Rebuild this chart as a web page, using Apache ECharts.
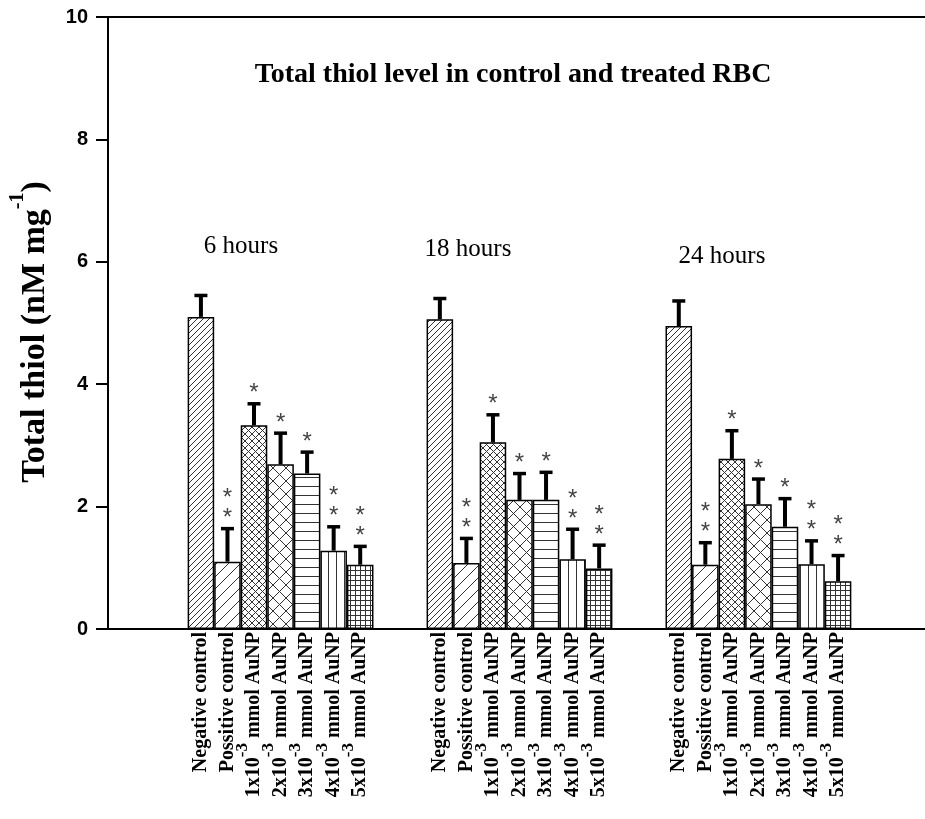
<!DOCTYPE html>
<html>
<head>
<meta charset="utf-8">
<script src="https://cdn.jsdelivr.net/npm/echarts@6/dist/echarts.min.js"></script>
<style>html,body{margin:0;padding:0;background:#fff;overflow:hidden}#c{width:931px;height:819px}</style>
</head>
<body>
<div id="c"></div>
<script>
// ---- data ----
const groupNames = ['6 hours', '18 hours', '24 hours'];
const treatmentLabels = ['Negative control', 'Possitive control', '1x10^-3 mmol AuNP', '2x10^-3 mmol AuNP', '3x10^-3 mmol AuNP', '4x10^-3 mmol AuNP', '5x10^-3 mmol AuNP'];
const mean6h  = [5.10, 1.10, 3.33, 2.69, 2.54, 1.28, 1.05];
const sd6h    = [0.35, 0.54, 0.35, 0.51, 0.35, 0.39, 0.30];
const mean18h = [5.06, 1.08, 3.05, 2.11, 2.11, 1.14, 0.99];
const sd18h   = [0.34, 0.40, 0.45, 0.43, 0.45, 0.49, 0.38];
const mean24h = [4.95, 1.05, 2.78, 2.04, 1.67, 1.06, 0.78];
const sd24h   = [0.41, 0.36, 0.46, 0.41, 0.46, 0.38, 0.42];
const starCount = [0, 2, 1, 1, 1, 2, 2];
const yTicks = [0, 2, 4, 6, 8, 10];

// ---- layout of slots (3 blank, group, 2 blank, group, 2 blank, group, 3 blank) ----
const leadSlots = 3, gapSlots = 2, trailSlots = 3;
const means = [mean6h, mean18h, mean24h];
const sds = [sd6h, sd18h, sd24h];
const categories = [], barData = [], errData = [];
function pushBlank(n){ for (let i=0;i<n;i++){ categories.push(''); barData.push('-'); } }
pushBlank(leadSlots);
for (let g=0; g<groupNames.length; g++){
  if (g>0) pushBlank(gapSlots);
  for (let t=0; t<treatmentLabels.length; t++){
    const idx = categories.length;
    categories.push(treatmentLabels[t]);
    barData.push({value: means[g][t], t: t});
    errData.push([idx, means[g][t], sds[g][t], starCount[t]]);
  }
}
pushBlank(trailSlots);

// ---- hatch patterns ----
function makePattern(kind){
  const sizes = {diagFine:6, diagCoarse:12, crossFine:7, crossCoarse:13, horiz:9, vert:8, grid:5};
  const n = sizes[kind];
  const cv = document.createElement('canvas');
  cv.width = n; cv.height = n;
  const c = cv.getContext('2d');
  c.fillStyle = '#fff'; c.fillRect(0,0,n,n);
  c.strokeStyle = '#333'; c.lineWidth = 1;
  function diag(){ c.beginPath(); c.moveTo(-1,1); c.lineTo(1,-1); c.moveTo(0,n); c.lineTo(n,0); c.moveTo(n-1,n+1); c.lineTo(n+1,n-1); c.stroke(); }
  function anti(){ c.beginPath(); c.moveTo(-1,n-1); c.lineTo(1,n+1); c.moveTo(0,0); c.lineTo(n,n); c.moveTo(n-1,-1); c.lineTo(n+1,1); c.stroke(); }
  function hor(){ c.beginPath(); c.moveTo(0,0.5); c.lineTo(n,0.5); c.stroke(); }
  function ver(){ c.beginPath(); c.moveTo(0.5,0); c.lineTo(0.5,n); c.stroke(); }
  if (kind==='diagFine' || kind==='diagCoarse') diag();
  if (kind==='crossFine' || kind==='crossCoarse'){ diag(); anti(); }
  if (kind==='horiz') hor();
  if (kind==='vert') ver();
  if (kind==='grid'){ hor(); ver(); }
  return {image: cv, repeat: 'repeat'};
}
const patternKinds = ['diagFine','diagCoarse','crossFine','crossCoarse','horiz','vert','grid'];
const patterns = patternKinds.map(makePattern);

const serif = "'Liberation Serif','Times New Roman',serif";

const chart = echarts.init(document.getElementById('c'), null, {renderer:'canvas'});
chart.setOption({
  animation: false,
  backgroundColor: '#fff',
  grid: {left: 108, right: 0, top: 17, bottom: 190},
  xAxis: [{
    type: 'category', data: categories, position: 'bottom',
    axisLine: {lineStyle: {color: '#000', width: 2}},
    axisTick: {show: false},
    axisLabel: {
      interval: 0, rotate: 90, margin: 3, padding: [0, 0, 10, 0],
      fontFamily: serif, fontWeight: 'bold', fontSize: 20, color: '#000',
      formatter: function(v){
        if (!v) return '';
        if (v.indexOf('^') < 0) return '{b|' + v + '}';
        const m = v.match(/^(.*?)\^(\S+)(.*)$/);
        return '{b|' + m[1] + '}{s|' + m[2] + '}{b|' + m[3] + '}';
      },
      rich: {
        b: {fontFamily: serif, fontWeight: 'bold', fontSize: 20, color: '#000', lineHeight: 30, verticalAlign: 'bottom'},
        s: {fontFamily: serif, fontWeight: 'bold', fontSize: 17, color: '#000', lineHeight: 30, verticalAlign: 'top'}
      }
    }
  }, {
    type: 'category', data: categories, position: 'top',
    axisLine: {lineStyle: {color: '#000', width: 2}},
    axisTick: {show: false}, axisLabel: {show: false}
  }],
  yAxis: {
    type: 'value', min: 0, max: 10, interval: 2,
    axisLine: {show: true, lineStyle: {color: '#000', width: 2}},
    axisTick: {show: true, length: 12, lineStyle: {color: '#000', width: 2}},
    splitLine: {show: false},
    axisLabel: {margin: 20, fontFamily: "'Liberation Sans',Arial,sans-serif", fontWeight: 'bold', fontSize: 20, color: '#000',
      formatter: function(v){ return yTicks.indexOf(v) >= 0 ? String(v) : ''; }}
  },
  series: [{
    type: 'bar', data: barData, barCategoryGap: 0, xAxisIndex: 0,
    itemStyle: {
      borderColor: '#000', borderWidth: 1.5,
      color: function(p){ return patterns[p.data.t]; }
    }
  }, {
    type: 'custom', xAxisIndex: 0, data: errData, z: 5,
    renderItem: function(params, api){
      const x = api.value(0), m = api.value(1), s = api.value(2), k = api.value(3);
      const base = api.coord([x, m]);
      const top = api.coord([x, m + s]);
      const children = [
        {type: 'line', shape: {x1: base[0], y1: base[1], x2: top[0], y2: top[1] + 1}, style: {stroke: '#000', lineWidth: 4}},
        {type: 'line', shape: {x1: top[0] - 6.5, y1: top[1], x2: top[0] + 6.5, y2: top[1]}, style: {stroke: '#000', lineWidth: 3.5}}
      ];
      for (let i = 0; i < k; i++) {
        children.push({type: 'text', style: {text: '*', x: top[0], y: top[1] - 10 - i * 20, align: 'center', verticalAlign: 'middle',
          font: "24px 'Liberation Sans',Arial,sans-serif", fill: '#444'}});
      }
      return {type: 'group', children: children};
    }
  }],
  graphic: [
    {type: 'text', x: 513, y: 75, style: {text: 'Total thiol level in control and treated RBC', align: 'center', verticalAlign: 'middle',
      font: "bold 28px " + serif, fill: '#000'}},
    {type: 'text', x: 241, y: 246, style: {text: groupNames[0], align: 'center', verticalAlign: 'middle', font: "25px " + serif, fill: '#000'}},
    {type: 'text', x: 468, y: 249, style: {text: groupNames[1], align: 'center', verticalAlign: 'middle', font: "25px " + serif, fill: '#000'}},
    {type: 'text', x: 722, y: 256, style: {text: groupNames[2], align: 'center', verticalAlign: 'middle', font: "25px " + serif, fill: '#000'}},
    {type: 'text', x: 30, y: 332, rotation: Math.PI / 2,
      style: {text: '{a|Total thiol (nM mg}{s|-1}{a|)}', align: 'center', verticalAlign: 'middle',
        rich: {a: {fontFamily: serif, fontWeight: 'bold', fontSize: 34, fill: '#000', lineHeight: 44, verticalAlign: 'bottom'},
               s: {fontFamily: serif, fontWeight: 'bold', fontSize: 20, fill: '#000', lineHeight: 44, verticalAlign: 'top'}}}}
  ]
});
</script>
</body>
</html>
